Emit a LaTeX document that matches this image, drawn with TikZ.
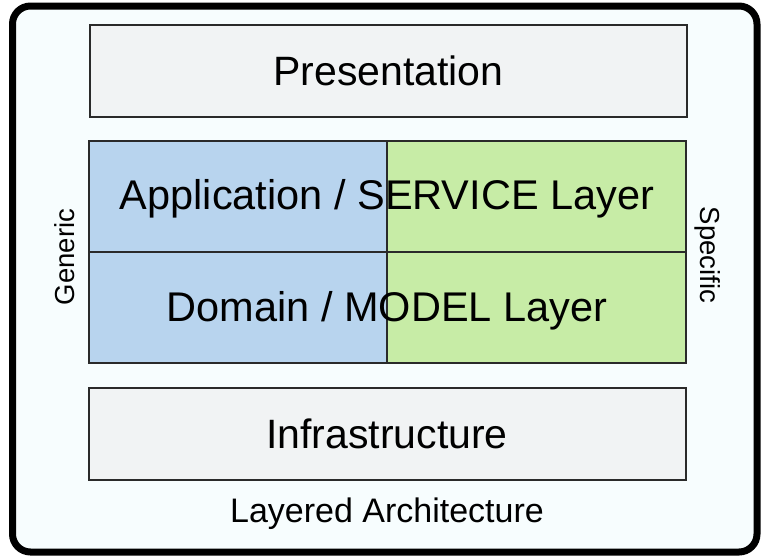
\documentclass[tikz,border=0pt]{standalone}
\usepackage{fontspec}
\setmainfont{Liberation Sans}
\usetikzlibrary{positioning}
\definecolor{frameFill}{HTML}{F7FDFE}
\definecolor{boxLine}{HTML}{2A2A2A}
\definecolor{layerGray}{HTML}{F1F3F4}
\definecolor{genericBlue}{HTML}{B8D4EE}
\definecolor{specificGreen}{HTML}{C7ECA6}
\tikzset{
layerBox/.style={rectangle,minimum height=92pt,minimum width=597pt,draw=boxLine,line width=2pt,fill=layerGray,font=\fontsize{41}{49}\selectfont}
}
\tikzset{
cellA/.style={rectangle,minimum height=111pt,minimum width=298pt,outer sep=0pt,draw=boxLine,line width=2pt,fill=genericBlue}
}
\tikzset{
cellB/.style={rectangle,minimum height=111pt,minimum width=299pt,outer sep=0pt,draw=boxLine,line width=2pt,fill=specificGreen}
}

\begin{document}
\begin{tikzpicture}[x=1pt,y=-1pt,midText/.style={font=\fontsize{41.5}{49}\selectfont},sideText/.style={font=\fontsize{27.5}{32}\selectfont},capText/.style={font=\fontsize{34}{40}\selectfont}]
\useasboundingbox (0,0) rectangle (761,558);

% frame round everything
\draw[line width=7pt,rounded corners=18pt,fill=frameFill] (12.5,6) rectangle (757,552);

\node[layerBox] (pres) at (388.5,71) {Presentation};

% middle block: two rows, generic part left, specific part right
\node[cellA,below=23pt of pres.south west,anchor=north west] (A1) {};
\node[cellB,right=0 of A1] (B1) {};
\node[cellA,below=0 of A1] (A2) {};
\node[cellB,right=0 of A2] (B2) {};
\node[midText] (svc) at ([yshift=-2pt]A1.east) {Application / SERVICE Layer};
\node[midText] (dom) at ([yshift=-3pt]A2.east) {Domain / MODEL Layer};

\node[layerBox,below=24pt of A2.south east,anchor=north] (infra) {Infrastructure};

%------------------------------------------------------------------------------------------------------------%
\node[sideText,rotate=90] (gen) at (65,257) {Generic};
\node[sideText,rotate=-90] (spec) at (708,255) {Specific};
\node[capText,below=13pt of infra] (cap) {Layered Architecture};

\end{tikzpicture}
\end{document}
